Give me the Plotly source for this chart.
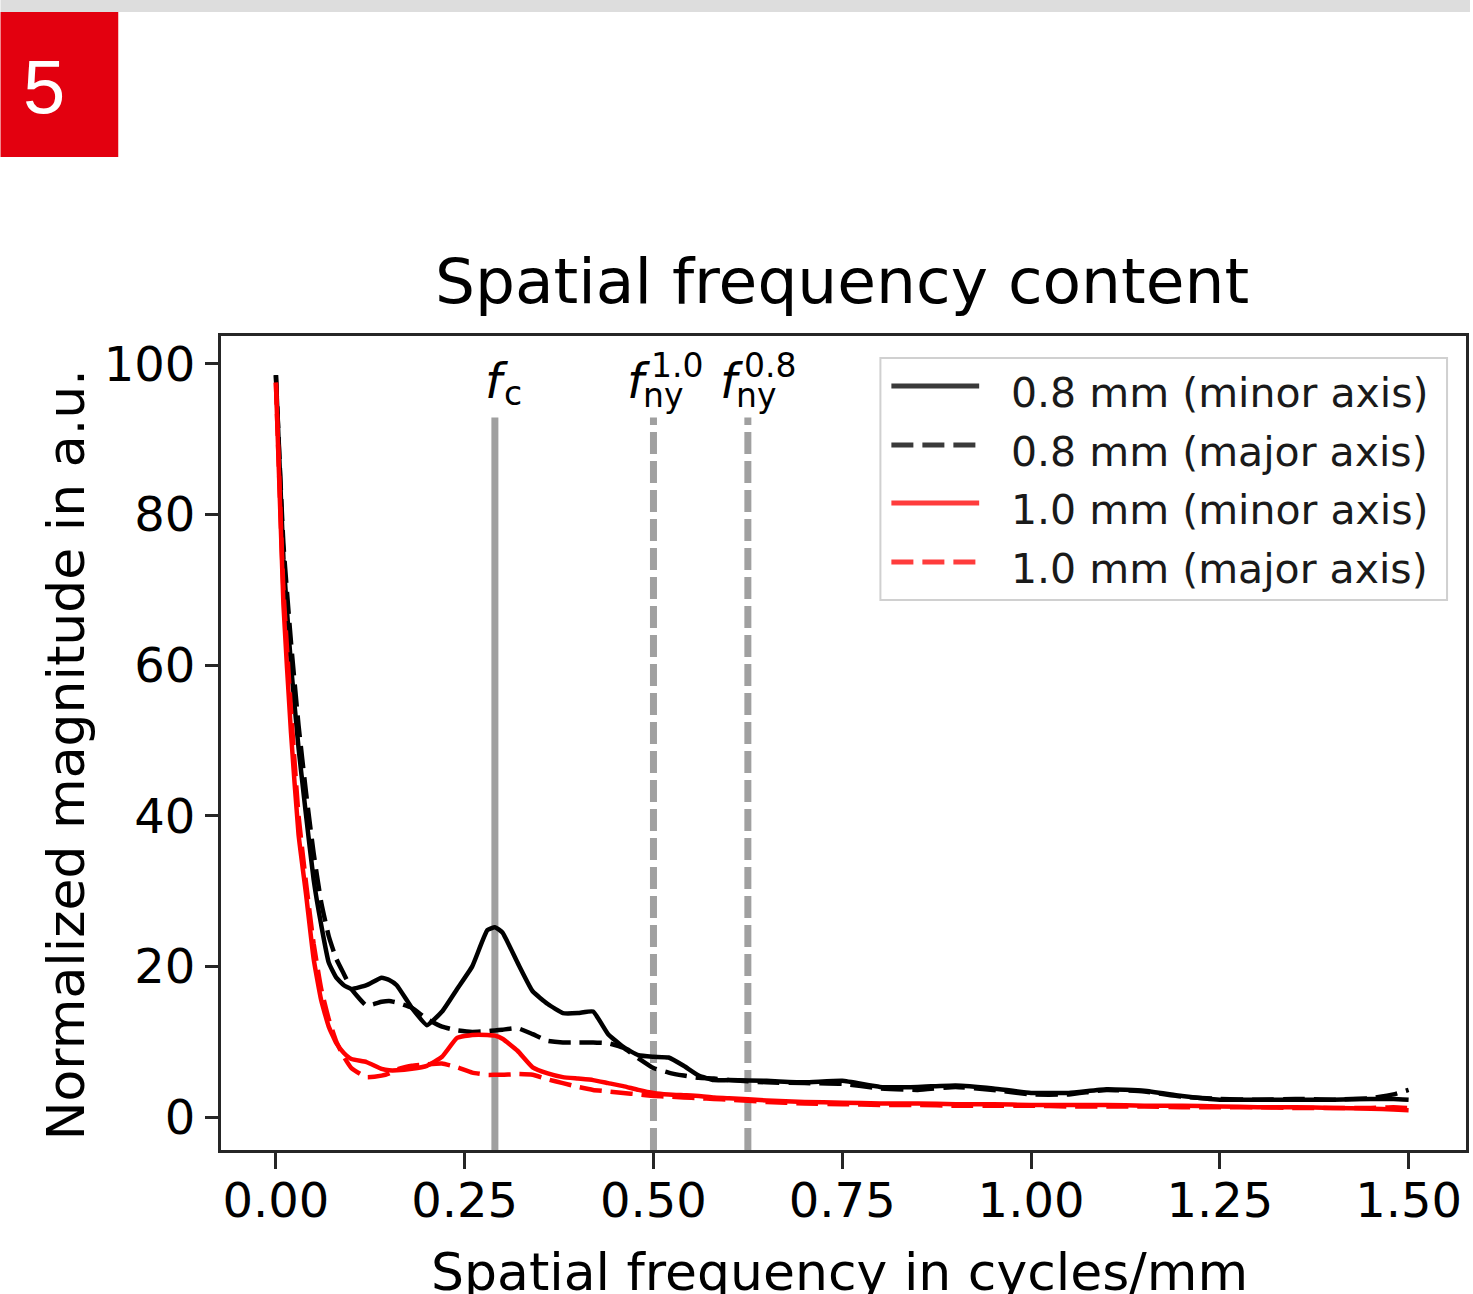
import plotly.graph_objects as go

# ---------------- data ----------------
freq = [0.00, 0.01, 0.02, 0.03, 0.04, 0.05, 0.06, 0.07, 0.08, 0.09, 0.10, 0.12, 0.14, 0.15,
        0.16, 0.18, 0.20, 0.22, 0.24, 0.26, 0.28, 0.29, 0.30, 0.32, 0.34, 0.36, 0.38, 0.40,
        0.42, 0.44, 0.46, 0.48, 0.50, 0.52, 0.54, 0.56, 0.58, 0.60, 0.65, 0.70, 0.75, 0.80,
        0.85, 0.90, 0.95, 1.00, 1.05, 1.10, 1.15, 1.20, 1.25, 1.30, 1.35, 1.40, 1.45, 1.48, 1.50]

mag_08_minor = [98.5, 74.0, 60.0, 49.0, 40.0, 31.5, 25.5, 20.5, 18.5, 17.5, 17.0, 17.5, 18.5, 18.2,
                17.5, 14.5, 12.2, 14.0, 17.0, 20.0, 24.8, 25.2, 24.5, 20.5, 16.7, 15.0, 13.8, 13.8,
                14.0, 11.0, 9.3, 8.2, 8.0, 7.9, 6.8, 5.5, 4.9, 4.9, 4.8, 4.6, 4.8, 4.0,
                4.0, 4.2, 3.8, 3.2, 3.2, 3.7, 3.5, 2.8, 2.3, 2.3, 2.3, 2.3, 2.4, 2.4, 2.3]

mag_08_major = [98.5, 76.0, 63.0, 52.0, 43.0, 35.0, 28.5, 24.0, 21.0, 19.0, 17.0, 14.8, 15.3, 15.4,
                15.2, 14.5, 13.0, 12.0, 11.5, 11.3, 11.4, 11.5, 11.6, 11.8, 11.0, 10.1, 9.9, 9.9,
                9.9, 9.8, 9.2, 7.8, 6.5, 5.9, 5.5, 5.2, 5.1, 4.9, 4.6, 4.5, 4.4, 3.8,
                3.6, 4.0, 3.6, 3.0, 3.0, 3.6, 3.4, 2.7, 2.4, 2.3, 2.4, 2.3, 2.5, 3.0, 3.6]

mag_10_minor = [97.5, 68.0, 51.0, 37.5, 29.5, 21.0, 15.5, 12.0, 9.8, 8.5, 7.7, 7.3, 6.4, 6.2,
                6.2, 6.4, 6.8, 8.0, 10.5, 10.9, 10.9, 10.8, 10.4, 8.8, 6.6, 5.8, 5.3, 5.1,
                4.9, 4.5, 4.1, 3.6, 3.2, 3.0, 2.9, 2.8, 2.6, 2.5, 2.2, 2.0, 1.9, 1.8,
                1.8, 1.7, 1.7, 1.6, 1.6, 1.6, 1.5, 1.5, 1.4, 1.3, 1.3, 1.2, 1.1, 1.0, 0.9]

mag_10_major = [97.5, 70.0, 54.0, 40.0, 31.0, 23.0, 17.0, 13.0, 10.0, 8.0, 6.5, 5.3, 5.5, 5.8,
                6.3, 6.8, 7.0, 7.1, 6.6, 5.9, 5.6, 5.6, 5.6, 5.7, 5.6, 5.0, 4.5, 4.0,
                3.6, 3.4, 3.2, 3.0, 2.8, 2.7, 2.6, 2.5, 2.4, 2.3, 2.0, 1.8, 1.7, 1.6,
                1.6, 1.5, 1.5, 1.5, 1.4, 1.4, 1.4, 1.3, 1.3, 1.3, 1.2, 1.2, 1.2, 1.3, 1.2]

series_names = ["0.8 mm (minor axis)", "0.8 mm (major axis)",
                "1.0 mm (minor axis)", "1.0 mm (major axis)"]
series_values = [mag_08_minor, mag_08_major, mag_10_minor, mag_10_major]
series_colors = ["#000000", "#000000", "#ff0000", "#ff0000"]
series_dash = ["solid", "22px,9px", "solid", "22px,9px"]

ref_freqs = [0.29, 0.5, 0.625]          # f_c, f_ny(1.0), f_ny(0.8)
ref_dash = ["solid", "22px,7px", "22px,7px"]

x_ticks = [0.0, 0.25, 0.5, 0.75, 1.0, 1.25, 1.5]
x_tick_text = ["0.00", "0.25", "0.50", "0.75", "1.00", "1.25", "1.50"]
y_ticks = [0, 20, 40, 60, 80, 100]

title_text = "Spatial frequency content"
x_title = "Spatial frequency in cycles/mm"
y_title = "Normalized magnitude in a.u."

# ---------------- layout geometry ----------------
W, H = 1473, 1294
L, R, T, B = 221, 1469, 336, 1150   # plot frame in pixels
FONT = "DejaVu Sans"


def px(xp):
    return (xp - L) / (R - L)


def py(yp):
    return (B - yp) / (B - T)


fig = go.Figure()

for name, vals, col, dash in zip(series_names, series_values, series_colors, series_dash):
    fig.add_trace(go.Scatter(x=freq, y=vals, mode="lines", name=name,
                             line=dict(color=col, width=4.5, dash=dash,
                                       shape="spline", smoothing=0.4),
                             showlegend=False))

shapes = []
annotations = []

# reference vertical lines
for xv, dsh in zip(ref_freqs, ref_dash):
    shapes.append(dict(type="line", xref="x", yref="y domain", x0=xv, x1=xv, y0=0, y1=0.9,
                       line=dict(color="#a0a0a0", width=7, dash=dsh), layer="below"))

# labels of reference lines
def lab(text, xp, yp, size, italic=False):
    t = f"<i>{text}</i>" if italic else text
    annotations.append(dict(text=t, xref="paper", yref="paper", x=px(xp), y=py(yp),
                            xanchor="left", yanchor="middle", showarrow=False,
                            font=dict(family=FONT, size=size, color="#000000")))

lab("f", 484, 381, 48, italic=True)
lab("c", 503, 393, 33)
lab("f", 626, 381, 48, italic=True)
lab("1.0", 650, 365, 33)
lab("ny", 642, 395, 33)
lab("f", 719, 381, 48, italic=True)
lab("0.8", 743, 365, 33)
lab("ny", 735, 395, 33)

# title and axis titles
annotations.append(dict(text=title_text, xref="paper", yref="paper", x=px(843), y=py(281),
                        xanchor="center", yanchor="middle", showarrow=False,
                        font=dict(family=FONT, size=63, color="#000000")))
annotations.append(dict(text=x_title, xref="paper", yref="paper", x=px(841), y=py(1272),
                        xanchor="center", yanchor="middle", showarrow=False,
                        font=dict(family=FONT, size=52, color="#000000")))
annotations.append(dict(text=y_title, xref="paper", yref="paper", x=px(66), y=py(755),
                        xanchor="center", yanchor="middle", showarrow=False, textangle=-90,
                        font=dict(family=FONT, size=52, color="#000000")))

# legend (drawn manually to match sample length)
shapes.append(dict(type="rect", xref="paper", yref="paper", x0=px(882), x1=px(1450),
                   y0=py(600), y1=py(358), line=dict(color="#d0d0d0", width=2),
                   fillcolor="rgba(255,255,255,0.85)", layer="above"))
row_y = [386, 445, 503, 562]
for i, (name, col, dsh) in enumerate(zip(series_names, series_colors, series_dash)):
    lc = "#3a3a3a" if col == "#000000" else "#ff3c3c"
    shapes.append(dict(type="line", xref="paper", yref="paper", x0=px(893), x1=px(981),
                       y0=py(row_y[i]), y1=py(row_y[i]),
                       line=dict(color=lc, width=5, dash=dsh), layer="above"))
    annotations.append(dict(text=name, xref="paper", yref="paper", x=px(1011), y=py(row_y[i] + 7),
                            xanchor="left", yanchor="middle", showarrow=False,
                            font=dict(family=FONT, size=41, color="#1a1a1a")))

# page decoration: grey bar and red numbered box
shapes.append(dict(type="rect", xref="paper", yref="paper", x0=px(0), x1=px(W),
                   y0=py(12), y1=py(0), line=dict(width=0), fillcolor="#dddddd"))
shapes.append(dict(type="rect", xref="paper", yref="paper", x0=px(0), x1=px(118),
                   y0=py(157), y1=py(12), line=dict(width=0), fillcolor="#e3000f"))
annotations.append(dict(text="5", xref="paper", yref="paper", x=px(44), y=py(86),
                        xanchor="center", yanchor="middle", showarrow=False,
                        font=dict(family="Liberation Sans", size=76, color="#ffffff")))

fig.update_layout(
    width=W, height=H,
    margin=dict(l=L, r=W - R, t=T, b=H - B, pad=0),
    paper_bgcolor="#ffffff", plot_bgcolor="#ffffff",
    shapes=shapes, annotations=annotations,
    showlegend=False,
    font=dict(family=FONT, color="#000000"),
)
fig.update_xaxes(range=[-0.0727, 1.5760], tickvals=x_ticks, ticktext=x_tick_text,
                 showgrid=False, zeroline=False, showline=True, mirror=True,
                 linecolor="#262626", linewidth=3, ticks="outside", ticklen=16, tickwidth=3,
                 tickcolor="#262626", tickfont=dict(family=FONT, size=48, color="#000000"),
                 ticklabelstandoff=-10)
fig.update_yaxes(range=[-4.38, 103.7], tickvals=y_ticks,
                 showgrid=False, zeroline=False, showline=True, mirror=True,
                 linecolor="#262626", linewidth=3, ticks="outside", ticklen=13, tickwidth=3,
                 tickcolor="#262626", tickfont=dict(family=FONT, size=48, color="#000000"),
                 ticklabelstandoff=0)

fig.write_html("out.html")
